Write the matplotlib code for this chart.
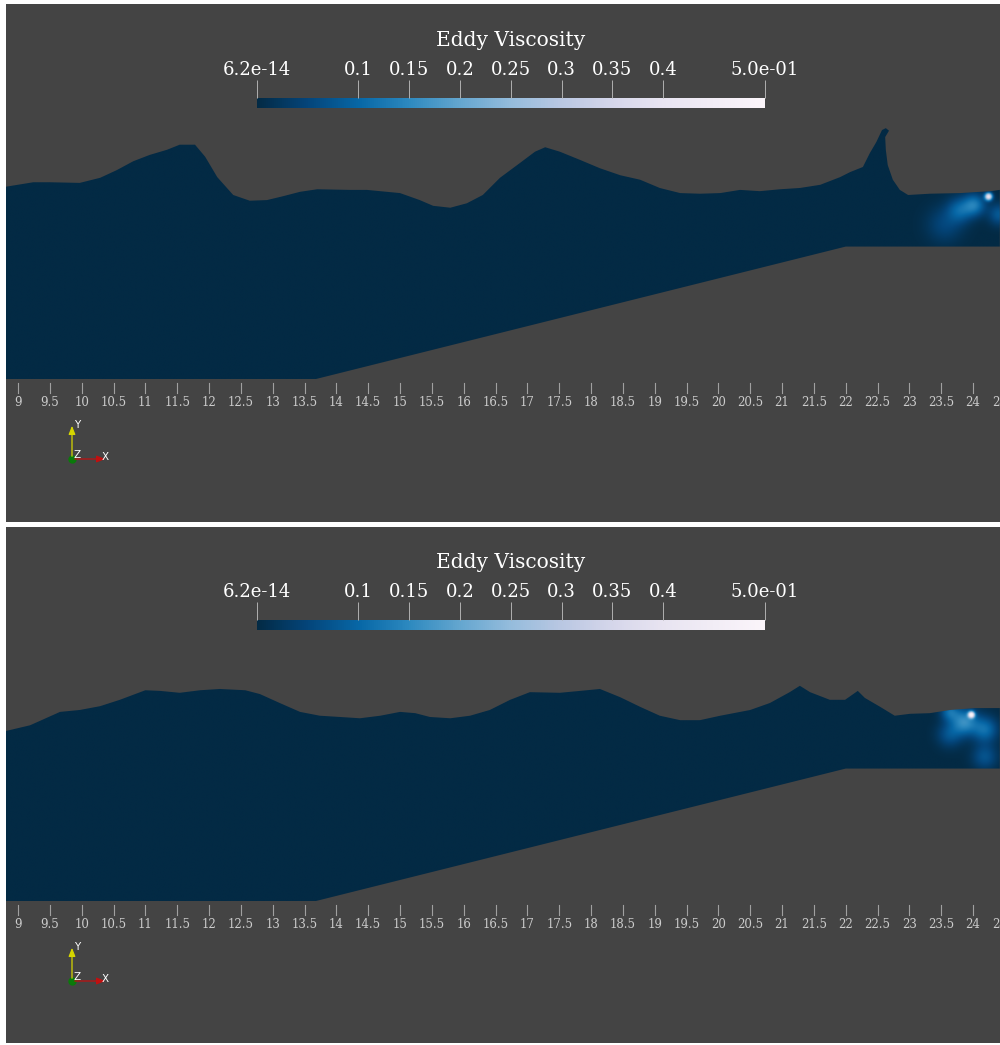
import numpy as np
import matplotlib
matplotlib.use("Agg")
import matplotlib.pyplot as plt
from matplotlib.colors import LinearSegmentedColormap, Normalize
from matplotlib.path import Path
from matplotlib.patches import PathPatch
import matplotlib.cm as cm

# ---------------- data ----------------
# free-surface outline (x, elevation) at two instants
surf_a_x = [8.81, 9.24, 9.50, 9.97, 10.29, 10.55, 10.81, 11.07, 11.34, 11.54, 11.78, 11.94,
            12.13, 12.38, 12.64, 12.91, 13.16, 13.43, 13.70, 14.21, 14.48, 15.00, 15.31,
            15.52, 15.79, 16.05, 16.30, 16.57, 16.88, 17.12, 17.28, 17.51, 17.83, 18.14,
            18.46, 18.77, 19.08, 19.40, 19.71, 20.03, 20.34, 20.65, 20.97, 21.28, 21.60,
            21.91, 22.07, 22.27, 22.38, 22.48, 22.57, 22.63, 22.68, 22.62, 22.63, 22.66,
            22.74, 22.85, 22.98, 23.32, 23.80, 24.27, 24.42]
surf_a_y = [3.02, 3.09, 3.09, 3.08, 3.16, 3.28, 3.42, 3.52, 3.60, 3.68, 3.68, 3.49,
            3.17, 2.89, 2.80, 2.81, 2.87, 2.94, 2.98, 2.97, 2.97, 2.92, 2.81,
            2.72, 2.69, 2.76, 2.89, 3.16, 3.39, 3.57, 3.64, 3.57, 3.44, 3.31,
            3.20, 3.13, 3.00, 2.92, 2.91, 2.92, 2.97, 2.95, 2.98, 3.00, 3.05,
            3.17, 3.25, 3.33, 3.55, 3.72, 3.91, 3.94, 3.90, 3.80, 3.60, 3.36,
            3.13, 2.97, 2.89, 2.91, 2.92, 2.95, 2.97]

surf_b_x = [8.81, 9.19, 9.66, 9.97, 10.29, 10.60, 11.00, 11.23, 11.54, 11.86, 12.17, 12.57,
            12.80, 13.11, 13.43, 13.74, 14.06, 14.37, 14.69, 15.00, 15.24, 15.47, 15.79,
            16.10, 16.41, 16.73, 17.04, 17.51, 17.83, 18.14, 18.46, 18.77, 19.08, 19.40,
            19.71, 20.03, 20.50, 20.81, 21.12, 21.28, 21.44, 21.75, 21.99, 22.19, 22.30,
            22.54, 22.77, 23.01, 23.32, 23.64, 24.03, 24.42]
surf_b_y = [2.67, 2.76, 2.97, 3.00, 3.06, 3.16, 3.31, 3.30, 3.27, 3.31, 3.33, 3.31,
            3.25, 3.11, 2.97, 2.91, 2.89, 2.87, 2.91, 2.97, 2.95, 2.89, 2.87,
            2.91, 3.00, 3.16, 3.28, 3.27, 3.30, 3.33, 3.20, 3.05, 2.91, 2.84,
            2.84, 2.91, 3.00, 3.11, 3.28, 3.38, 3.28, 3.16, 3.16, 3.30, 3.19,
            3.05, 2.91, 2.94, 2.95, 3.00, 3.03, 3.03]

# channel bed: flat, 1:4 ramp, flat
bed_x = [8.81, 13.68, 22.00, 24.42]
bed_y = [0.00, 0.00, 2.08, 2.08]

# eddy-viscosity patches near the outflow: centre x, centre y, peak value, radius
eddy_a_x = [23.56, 23.80, 24.03, 24.25, 24.42]
eddy_a_y = [2.42, 2.65, 2.73, 2.86, 2.58]
eddy_a_v = [0.05, 0.09, 0.12, 0.40, 0.08]
eddy_a_r = [0.20, 0.14, 0.12, 0.04, 0.12]

eddy_b_x = [23.64, 23.64, 23.87, 23.98, 24.19, 24.19]
eddy_b_y = [2.97, 2.61, 2.81, 2.92, 2.69, 2.26]
eddy_b_v = [0.10, 0.07, 0.15, 0.45, 0.11, 0.07]
eddy_b_r = [0.10, 0.14, 0.14, 0.035, 0.14, 0.14]

cbar_ticks = [6.2e-14, 0.1, 0.15, 0.2, 0.25, 0.3, 0.35, 0.4, 0.5]
cbar_labels = ["6.2e-14", "0.1", "0.15", "0.2", "0.25", "0.3", "0.35", "0.4", "5.0e-01"]
x_ticks = np.arange(9.0, 24.51, 0.5)
vmin, vmax = 6.2e-14, 0.5

# ---------------- style ----------------
BG = "#444444"
SERIF = ["DejaVu Serif"]
cmap = LinearSegmentedColormap.from_list(
    "eddy",
    [(0.00, "#032a44"), (0.10, "#04457a"), (0.20, "#0767a6"), (0.30, "#2d89bf"),
     (0.40, "#64a6cf"), (0.50, "#95bcdc"), (0.60, "#b9c7e2"), (0.70, "#d5d6ea"),
     (0.80, "#e8e4f1"), (1.00, "#fbf5fa")])
norm = Normalize(vmin, vmax)

W, H = 1000, 1045
fig = plt.figure(figsize=(W / 100, H / 100), dpi=100, facecolor="white")

PX_PER_M = 63.67
X_LEFT = 9 + (6 - 18) / PX_PER_M
X_RIGHT = 9 + (1000 - 18) / PX_PER_M


def panel(top_px, bot_px, bed_px, sx, sy, ex, ey, ev, er):
    ax = fig.add_axes([6 / W, 1 - bot_px / H, 994 / W, (bot_px - top_px) / H])
    ax.set_facecolor(BG)
    ax.set_xlim(X_LEFT, X_RIGHT)
    ax.set_ylim((bed_px - bot_px) / PX_PER_M, (bed_px - top_px) / PX_PER_M)
    ax.set_xticks([])
    ax.set_yticks([])
    for s in ax.spines.values():
        s.set_visible(False)

    # fluid region polygon: free surface then bed back to start
    verts = list(zip(sx, sy)) + list(zip(bed_x[::-1], bed_y[::-1]))
    path = Path(verts + [verts[0]], closed=True)

    gx = np.linspace(X_LEFT, X_RIGHT, 1400)
    gy = np.linspace(-0.1, 4.2, 420)
    GX, GY = np.meshgrid(gx, gy)
    field = np.zeros_like(GX)
    for cx, cy, v, r in zip(ex, ey, ev, er):
        field += v * np.exp(-((GX - cx) ** 2 + (GY - cy) ** 2) / (2 * r ** 2))
    field = np.clip(field, vmin, vmax)
    im = ax.imshow(field, origin="lower", extent=(gx[0], gx[-1], gy[0], gy[-1]),
                   cmap=cmap, norm=norm, interpolation="bilinear", aspect="auto", zorder=2)
    patch = PathPatch(path, transform=ax.transData, facecolor="none", edgecolor="none")
    ax.add_patch(patch)
    im.set_clip_path(patch)

    # x ruler below the bed
    t0, t1 = -4 / PX_PER_M, -14 / PX_PER_M
    for t in x_ticks:
        ax.plot([t, t], [t0, t1], color="#a0a0a0", lw=0.8, zorder=3, clip_on=False)
        ax.text(t, -23 / PX_PER_M, "%g" % t, ha="center", va="center",
                color="#cccccc", fontsize=8.5, family=SERIF, zorder=3)
    return ax


def colorbar(bar_top_px, title_px):
    cax = fig.add_axes([256.5 / W, 1 - (bar_top_px + 10) / H, 508.5 / W, 10 / H])
    sm = cm.ScalarMappable(norm=norm, cmap=cmap)
    cb = fig.colorbar(sm, cax=cax, orientation="horizontal", ticklocation="top")
    cb.outline.set_visible(False)
    cb.set_ticks(cbar_ticks)
    cb.set_ticklabels(cbar_labels)
    cax.tick_params(axis="x", length=13, width=0.7, color="#b0b0b0", pad=0.5,
                    labelsize=13, labelcolor="white")
    for lab in cax.get_xticklabels():
        lab.set_family(SERIF)
    fig.text(511 / W, 1 - title_px / H, "Eddy Viscosity", ha="center", va="center",
             color="white", fontsize=14.5, family=SERIF)


def triad(ox, oy):
    ov = fig.add_axes([0, 0, 1, 1], facecolor="none")
    ov.set_xlim(0, W)
    ov.set_ylim(H, 0)
    ov.set_axis_off()
    ov.annotate("", xy=(ox, oy - 36), xytext=(ox, oy),
                arrowprops=dict(arrowstyle="-|>,head_length=0.5,head_width=0.2",
                                color="#d6d600", lw=0.9))
    ov.annotate("", xy=(ox + 36, oy), xytext=(ox, oy),
                arrowprops=dict(arrowstyle="-|>,head_length=0.5,head_width=0.2",
                                color="#c01010", lw=0.9))
    ov.plot([ox], [oy], "o", color="#0a7a0a", ms=5)
    ov.text(ox + 2, oy - 34, "Y", color="white", fontsize=7.5, va="center", ha="left")
    ov.text(ox + 30, oy - 2, "X", color="white", fontsize=7.5, va="center", ha="left")
    ov.text(ox + 1, oy - 4, "Z", color="white", fontsize=7.5, va="center", ha="left")
    return ov


panel(4, 522, 379, surf_a_x, surf_a_y, eddy_a_x, eddy_a_y, eddy_a_v, eddy_a_r)
panel(527, 1043, 901, surf_b_x, surf_b_y, eddy_b_x, eddy_b_y, eddy_b_v, eddy_b_r)
colorbar(98, 40)
colorbar(620, 562)
triad(72, 459)
ov = triad(72, 981)
ov.plot([6, W], [524.5, 524.5], color="white", lw=1.5)

fig.savefig("out.png", dpi=100, facecolor="white")
